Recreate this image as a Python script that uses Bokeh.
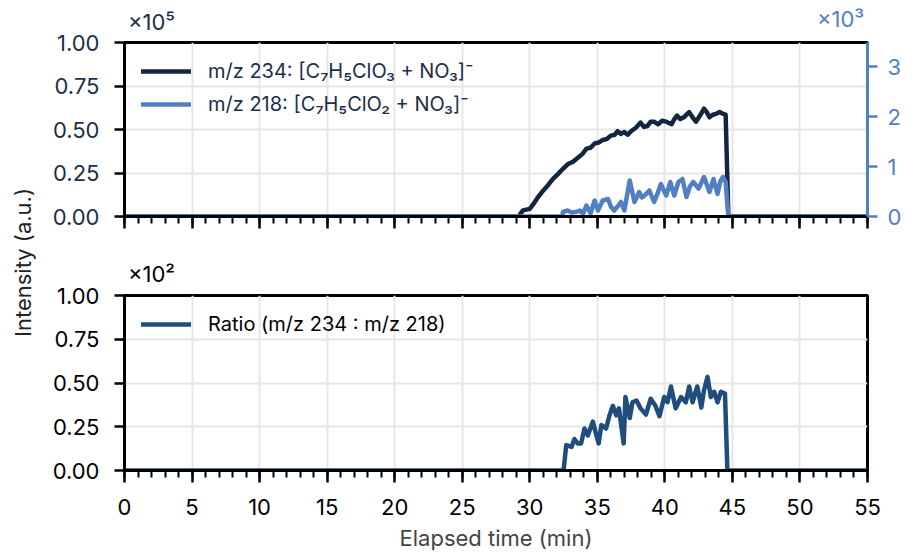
import math
from bokeh.plotting import figure
from bokeh.models import (Range1d, LinearAxis, SingleIntervalTicker, FixedTicker,
                          Legend, LegendItem, CustomJSTickFormatter, NumeralTickFormatter)
from bokeh.layouts import row, column
from bokeh.embed import file_html
from bokeh.resources import INLINE
from bokeh.core.properties import value

# ---------------- data (values as shown on the axes) ----------------
# m/z 234 signal, units of 1e5
t_234 = [0, 29.2, 29.3, 29.5, 30.0, 30.3, 30.6, 31.0, 31.35, 31.7, 32.1, 32.4, 32.8, 33.2, 33.6,
         33.9, 34.2, 34.5, 34.8, 35.1, 35.4, 35.7, 36.0, 36.3, 36.5, 36.75, 37.0, 37.25, 37.5,
         37.85, 38.2, 38.45, 38.7, 38.95, 39.2, 39.5, 39.8, 40.1, 40.5, 40.7, 40.9, 41.15, 41.4,
         41.6, 41.8, 42.05, 42.3, 42.6, 42.9, 43.1, 43.3, 43.55, 43.8, 44.05, 44.3, 44.5, 44.7, 55]
v_234 = [0, 0, 0.015, 0.035, 0.044, 0.075, 0.11, 0.15, 0.18, 0.215, 0.245, 0.27, 0.30, 0.315, 0.34,
         0.36, 0.39, 0.395, 0.42, 0.425, 0.44, 0.445, 0.465, 0.47, 0.49, 0.475, 0.485, 0.47, 0.49,
         0.51, 0.54, 0.515, 0.52, 0.545, 0.545, 0.53, 0.55, 0.545, 0.53, 0.56, 0.58, 0.56, 0.57,
         0.585, 0.60, 0.57, 0.545, 0.58, 0.62, 0.60, 0.57, 0.585, 0.59, 0.60, 0.59, 0.585, 0, 0]

# m/z 218 signal, units of 1e3
t_218 = [0, 32.4, 32.46, 32.8, 33.1, 33.4, 33.7, 33.95, 34.2, 34.5, 34.8, 35.05, 35.4, 35.8, 36.0,
         36.25, 36.5, 36.75, 37.0, 37.4, 37.75, 38.1, 38.3, 38.5, 38.85, 39.2, 39.45, 39.7, 40.1,
         40.4, 40.7, 41.0, 41.3, 41.6, 41.85, 42.1, 42.5, 42.9, 43.3, 43.6, 43.9, 44.1, 44.3,
         44.5, 44.7, 55]
v_218 = [0, 0, 0.09, 0.12, 0.08, 0.09, 0.12, 0.06, 0.22, 0.06, 0.32, 0.12, 0.32, 0.35, 0.20,
         0.12, 0.20, 0.29, 0.12, 0.72, 0.29, 0.49, 0.38, 0.42, 0.52, 0.29, 0.45, 0.65, 0.42,
         0.69, 0.42, 0.69, 0.75, 0.39, 0.60, 0.69, 0.56, 0.79, 0.49, 0.75, 0.45, 0.70, 0.79,
         0.69, 0, 0]

# ratio m/z 234 : m/z 218, units of 1e2
t_ratio = [0, 32.5, 32.7, 33.1, 33.3, 33.55, 33.8, 34.05, 34.3, 34.67, 34.9, 35.1, 35.3, 35.65,
           35.9, 36.15, 36.4, 36.6, 36.95, 37.08, 37.4, 37.6, 37.9, 38.2, 38.6, 38.95, 39.3,
           39.6, 39.95, 40.2, 40.45, 40.8, 41.2, 41.55, 41.8, 42.05, 42.4, 42.7, 42.9, 43.16,
           43.4, 43.65, 43.9, 44.15, 44.45, 44.63, 55]
v_ratio = [0, 0, 0.145, 0.135, 0.18, 0.155, 0.155, 0.24, 0.20, 0.28, 0.21, 0.155, 0.26, 0.24,
           0.315, 0.37, 0.315, 0.355, 0.155, 0.42, 0.30, 0.39, 0.40, 0.355, 0.32, 0.41, 0.37,
           0.31, 0.42, 0.39, 0.48, 0.355, 0.42, 0.39, 0.48, 0.39, 0.48, 0.36, 0.46, 0.535,
           0.42, 0.45, 0.39, 0.45, 0.44, 0, 0]

y_ticks = [0, 0.25, 0.5, 0.75, 1.0]
right_ticks = [0, 1, 2, 3]

label_234 = "m/z 234: [C\u2087H\u2085ClO\u2083 + NO\u2083]\u207b"
label_218 = "m/z 218: [C\u2087H\u2085ClO\u2082 + NO\u2083]\u207b"
label_ratio = "Ratio (m/z 234 : m/z 218)"
scale_left_top = "\u00d710\u2075"
scale_right_top = "\u00d710\u00b3"
scale_bottom = "\u00d710\u00b2"
x_title = "Elapsed time (min)"
y_title = "Intensity (a.u.)"

# ---------------- style ----------------
FONT = "Inter"
FS = "22px"
LFS = "20px"
C234 = "#13263f"
C218 = "#5180c2"
CRATIO = "#1f4d7c"
NAVY_TXT = "#1b2f4b"
GRID = "#e6e6e6"
LW = 4.5
W = 856
H_TOP, H_BOT = 250, 306


def style_axis(ax, color="black", label_color="black"):
    ax.axis_line_width = 3
    ax.axis_line_color = color
    ax.major_tick_line_width = 2.5
    ax.major_tick_line_color = color
    ax.minor_tick_line_width = 2
    ax.minor_tick_line_color = color
    ax.major_tick_in = 0
    ax.minor_tick_in = 0
    ax.major_label_text_font = FONT
    ax.major_label_text_font_size = FS
    ax.major_label_text_color = label_color


def scale_axis(p, tick, text, color, standoff):
    """A bare axis above the frame that only carries the exponent text."""
    ax = LinearAxis(ticker=FixedTicker(ticks=[tick]),
                    formatter=CustomJSTickFormatter(code="return %r" % text))
    ax.axis_line_color = None
    ax.major_tick_line_color = None
    ax.minor_tick_line_color = None
    ax.major_tick_out = 0
    ax.major_tick_in = 0
    ax.major_label_standoff = standoff
    ax.major_label_text_font = FONT
    ax.major_label_text_font_size = FS
    ax.major_label_text_color = color
    p.add_layout(ax, "above")
    return ax


def base_fig(height, top, bottom):
    p = figure(width=W, height=height, x_range=Range1d(0, 55), y_range=Range1d(0, 1),
               output_backend="svg", toolbar_location=None,
               min_border_left=76, min_border_right=37, min_border_top=top,
               min_border_bottom=bottom)
    p.xaxis.ticker = SingleIntervalTicker(interval=5, num_minor_ticks=5)
    p.yaxis.ticker = FixedTicker(ticks=y_ticks)
    p.yaxis.formatter = NumeralTickFormatter(format="0.00")
    for g in (p.xgrid, p.ygrid):
        g.grid_line_color = GRID
        g.grid_line_width = 2
    p.outline_line_color = "black"
    p.outline_line_width = 3
    return p


# ---------------- top panel ----------------
top = base_fig(H_TOP, 42, 34)
top.extra_y_ranges = {"right": Range1d(0, 3.48)}

style_axis(top.xaxis[0])
top.xaxis[0].major_tick_out = 12
top.xaxis[0].minor_tick_out = 7
top.xaxis[0].formatter = CustomJSTickFormatter(code="return ''")
style_axis(top.yaxis[0], label_color=NAVY_TXT)
top.yaxis[0].major_tick_out = 10
top.yaxis[0].major_label_standoff = 15

r_ax = LinearAxis(y_range_name="right", ticker=FixedTicker(ticks=right_ticks))
style_axis(r_ax, color=C218, label_color=C218)
r_ax.major_tick_out = 10
r_ax.major_label_standoff = 10
top.add_layout(r_ax, "right")

scale_axis(top, 2, scale_left_top, NAVY_TXT, 8)
scale_axis(top, 53, scale_right_top, C218, -26)

l234 = top.line(t_234, v_234, line_color=C234, line_width=LW, line_join="round",
                line_cap="round")
l218 = top.line(t_218, v_218, line_color=C218, line_width=LW, line_join="round",
                line_cap="round", y_range_name="right")

top_leg = Legend(items=[LegendItem(label=label_234, renderers=[l234]),
                        LegendItem(label=label_218, renderers=[l218])],
                 location="top_left")
top.add_layout(top_leg)

# ---------------- bottom panel ----------------
bot = base_fig(H_BOT, 45, 86)
style_axis(bot.xaxis[0])
bot.xaxis[0].major_tick_out = 12
bot.xaxis[0].minor_tick_out = 7
bot.xaxis[0].major_label_standoff = 16
bot.xaxis[0].axis_label = x_title
bot.xaxis[0].axis_label_text_font = FONT
bot.xaxis[0].axis_label_text_font_size = FS
bot.xaxis[0].axis_label_text_font_style = "normal"
bot.xaxis[0].axis_label_standoff = 7
style_axis(bot.yaxis[0])
bot.yaxis[0].major_tick_out = 10
bot.yaxis[0].major_label_standoff = 15

scale_axis(bot, 2, scale_bottom, "black", 9)

lr = bot.line(t_ratio, v_ratio, line_color=CRATIO, line_width=LW, line_join="round",
              line_cap="round")
bot_leg = Legend(items=[LegendItem(label=label_ratio, renderers=[lr])], location="top_left")
bot.add_layout(bot_leg)

for leg in (top_leg, bot_leg):
    leg.background_fill_alpha = 0
    leg.border_line_color = None
    leg.label_text_font = FONT
    leg.label_text_font_size = LFS
    leg.glyph_width = 50
    leg.glyph_height = 20
    leg.label_height = 20
    leg.label_standoff = 17
    leg.spacing = 9
    leg.margin = 17
    leg.padding = 0
top_leg.label_text_color = NAVY_TXT
bot_leg.label_text_color = "black"

# ---------------- shared y label ----------------
TOTAL_H = H_TOP + H_BOT
lab = figure(width=48, height=TOTAL_H, x_range=Range1d(0, 48), y_range=Range1d(0, TOTAL_H),
             output_backend="svg", toolbar_location=None, min_border=0,
             x_axis_location=None, y_axis_location=None)
lab.outline_line_color = None
lab.xgrid.visible = False
lab.ygrid.visible = False
lab.text(x=[22], y=[TOTAL_H - 262], text=[y_title], angle=math.pi / 2,
         text_font=value(FONT), text_font_size=FS, text_color="#222222",
         text_align="center", text_baseline="middle")

layout = row(lab, column(top, bot))
open("out.html", "w").write(file_html(layout, INLINE))
